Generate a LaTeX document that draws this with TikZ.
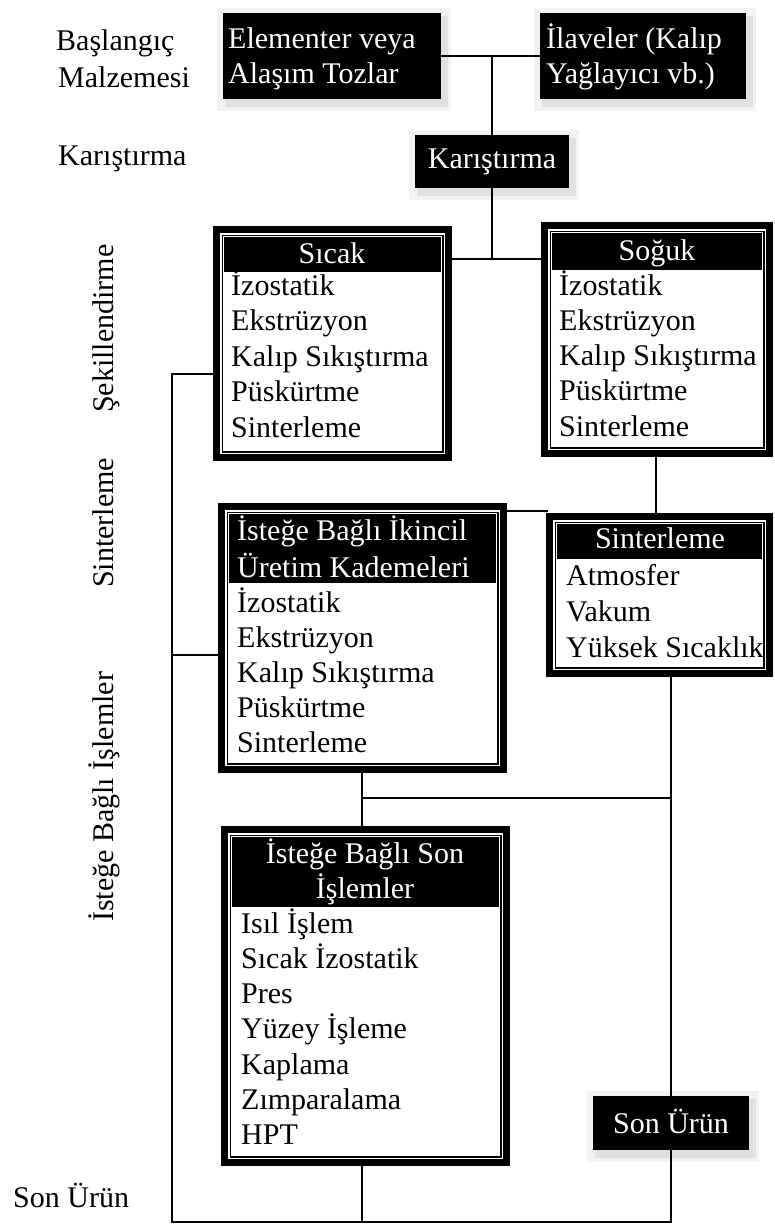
\documentclass[tikz,border=0pt]{standalone}
\usepackage{fontspec}
\setmainfont{Liberation Serif}
\newcommand\lframe[6]{%
  \node[inner sep=0pt, minimum width={#4-#2}, minimum height={#5-#3}] (#1) at ({(#2+#4)/2},{(#3+#5)/2}) {};
  \fill[black] (#2,#3) rectangle (#4,#5);
  \fill[white] ({#2+7},{#3+7}) rectangle ({#4-7},{#5-7});
  \draw[line width=1.4pt] ({#2+9.2},{#3+9.2}) rectangle ({#4-9.2},{#5-9.2});
  \fill[black] ({#2+11},{#3+11}) rectangle ({#4-11},#6);
}
\newcommand\bbox[5]{%
  \fill[gray!10] ({#2-6},{#3-5}) rectangle ({#4+10},{#5+12});
  \fill[gray!24] ({#2+2},{#3+3}) rectangle ({#4+7},{#5+8});
  \node[fill=black, inner sep=0pt, minimum width={#4-#2}, minimum height={#5-#3}] (#1) at ({(#2+#4)/2},{(#3+#5)/2}) {};
}
\begin{document}
\begin{tikzpicture}[x=1pt,y=-1pt,
  conn/.style={line width=2.6pt},
  item/.style={anchor=base west, inner sep=0pt, font=\fontsize{30}{35}\selectfont},
  witem/.style={item, text=white},
  hitem/.style={anchor=base, inner sep=0pt, text=white, font=\fontsize{30}{35}\selectfont}]
\fill[white] (0,0) rectangle (774,1226);
\useasboundingbox (0,0) rectangle (774,1226);

% black boxes with shadow
\bbox{elem}{223}{13}{441}{99}
\bbox{ilave}{540}{13}{746}{99}
\bbox{mix}{415}{135}{569}{188}
\bbox{son}{593}{1096}{749}{1150}

% framed list boxes
\lframe{sicak}{213}{226}{452}{461}{272}
\lframe{soguk}{541}{222}{773}{457}{270}
\lframe{ikincil}{218}{503}{507}{773}{583}
\lframe{sint}{546}{513}{773}{677}{559}
\lframe{sonis}{221}{826}{510}{1166}{907}

% connector coordinates
\coordinate (j1) at (492,259);
\coordinate (l1) at (172,374);
\coordinate (l2) at (172,655);
\coordinate (lb) at (172,1222);
\coordinate (rb) at (671,1222);
\coordinate (k1) at (548,511);
\coordinate (v1) at (656,0);
\coordinate (m1) at (362,798);

% connectors
\draw[conn] (elem.east) -- (ilave.west);
\draw[conn] (elem.east -| mix.north) -- (mix.north);
\draw[conn] (mix.south) -- (j1);
\draw[conn] (sicak.east |- j1) -- (soguk.west |- j1);
\draw[conn] (sicak.west |- l1) -- (l1) -- (lb) -- (rb) -- (son.south);
\draw[conn] (ikincil.west |- l2) -- (l2);
\draw[conn] (ikincil.east |- k1) -- (k1);
\draw[conn] (soguk.south -| v1) -- (sint.north -| v1);
\draw[conn] (ikincil.south -| m1) -- (m1) -- (m1 -| rb);
\draw[conn] (m1) -- (sonis.north -| m1);
\draw[conn] (sint.south -| rb) -- (son.north);
\draw[conn] (sonis.south -| m1) -- (lb -| m1);

% left labels
\node[item] (lab1) at (56,50) {Başlangıç};
\node[item] (lab2) at (58,87) {Malzemesi};
\node[item] (lab3) at (58,165) {Karıştırma};
\node[item, rotate=90] (lab4) at (113,588) {Sinterleme};
\node[item, rotate=90] (lab5) at (113,413) {Şekillendirme};
\node[item, rotate=90] (lab6) at (113,922) {İsteğe Bağlı İşlemler};
\node[item] (lab7) at (13,1207) {Son Ürün};

% black box texts
\node[witem] (t1a) at (228,48) {Elementer veya};
\node[witem] (t1b) at (228,83) {Alaşım Tozlar};
\node[witem] (t2a) at (546,48) {İlaveler (Kalıp};
\node[witem] (t2b) at (546,83) {Yağlayıcı vb.)};
\node[hitem] (t3) at (492,168) {Karıştırma};
\node[hitem] (t4) at (671,1133) {Son Ürün};

% headers
\node[hitem] (sich) at (332,263) {Sıcak};
\node[hitem] (sogh) at (657,260) {Soğuk};
\node[witem] (ikh1) at (237,540) {İsteğe Bağlı İkincil};
\node[witem] (ikh2) at (237,577) {Üretim Kademeleri};
\node[hitem] (sinh) at (660,548) {Sinterleme};
\node[hitem] (sonh1) at (365,863) {İsteğe Bağlı Son};
\node[hitem] (sonh2) at (365,898) {İşlemler};

% list items
\foreach \t [count=\i] in {İzostatik, Ekstrüzyon, Kalıp Sıkıştırma, Püskürtme, Sinterleme}
  \node[item] (sic\i) at (231,{295+35.5*(\i-1)}) {\t};
\foreach \t [count=\i] in {İzostatik, Ekstrüzyon, Kalıp Sıkıştırma, Püskürtme, Sinterleme}
  \node[item] (sog\i) at (559,{295+35.3*(\i-1)}) {\t};
\foreach \t [count=\i] in {İzostatik, Ekstrüzyon, Kalıp Sıkıştırma, Püskürtme, Sinterleme}
  \node[item] (ik\i) at (237,{612+35.2*(\i-1)}) {\t};
\foreach \t [count=\i] in {Atmosfer, Vakum, Yüksek Sıcaklık}
  \node[item] (sn\i) at (566,{585+36*(\i-1)}) {\t};
\foreach \t [count=\i] in {Isıl İşlem, Sıcak İzostatik, Pres, Yüzey İşleme, Kaplama, Zımparalama, HPT}
  \node[item] (si\i) at (241,{933+35.3*(\i-1)}) {\t};
\end{tikzpicture}
\end{document}
